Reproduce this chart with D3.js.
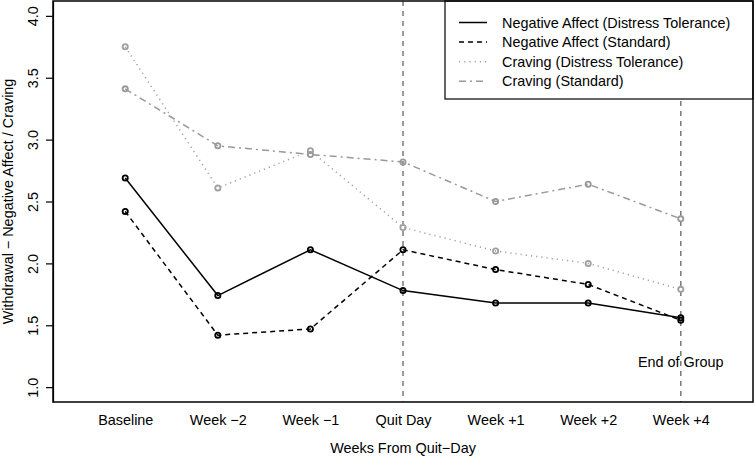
<!DOCTYPE html>
<html><head><meta charset="utf-8">
<script src="https://cdn.jsdelivr.net/npm/d3@7"></script>
<style>
body{margin:0;background:#fff;}
svg text{font-family:"Liberation Sans",Arial,Helvetica,sans-serif;}
</style>
</head><body>
<svg id="chart" width="755" height="456"></svg>
<script>
const categories = ["Baseline","Week \u22122","Week \u22121","Quit Day","Week +1","Week +2","Week +4"];
const negAffectDT  = [2.69, 1.74, 2.11, 1.78, 1.68, 1.68, 1.56];
const negAffectStd = [2.42, 1.42, 1.47, 2.11, 1.95, 1.83, 1.54];
const cravingDT    = [3.75, 2.61, 2.91, 2.29, 2.10, 2.00, 1.79];
const cravingStd   = [3.41, 2.95, 2.88, 2.82, 2.50, 2.64, 2.36];
const seriesNames  = ["Negative Affect (Distress Tolerance)","Negative Affect (Standard)","Craving (Distress Tolerance)","Craving (Standard)"];
const yTicks = [1.0, 1.5, 2.0, 2.5, 3.0, 3.5, 4.0];
const refLines = [4, 7];
const refLabel = "End of Group";
const xTitle = "Weeks From Quit\u2212Day";
const yTitle = "Withdrawal \u2212 Negative Affect / Craving";

const styles = [
  {color:"#000", dash:null, lw:1.5},
  {color:"#000", dash:"5,4", lw:1.5},
  {color:"#a0a0a0", dash:"1.2,4", lw:1.5},
  {color:"#999", dash:"7,4,2,4", lw:1.5}
];
const allSeries = [negAffectDT, negAffectStd, cravingDT, cravingStd];

const svg = d3.select("#chart");
const L=53, R=753, T=1, B=402;
const x = d3.scaleLinear().domain([0.22, 7.78]).range([L, R]);
const y = d3.scaleLinear().domain([0.88, 4.12]).range([B, T]);
const FS = "14.4px";

// reference lines
refLines.forEach(v=>{
  svg.append("line").attr("x1",x(v)).attr("x2",x(v)).attr("y1",T).attr("y2",B)
    .attr("stroke","#7a7a7a").attr("stroke-width",1.5).attr("stroke-dasharray","5,5");
});

// series
const line = d3.line().x((d,i)=>x(i+1)).y(d=>y(d));
allSeries.forEach((s,k)=>{
  const st = styles[k];
  svg.append("path").datum(s).attr("d",line).attr("fill","none")
    .attr("stroke",st.color).attr("stroke-width",st.lw)
    .attr("stroke-dasharray",st.dash);
  svg.selectAll(null).data(s).enter().append("circle")
    .attr("cx",(d,i)=>x(i+1)).attr("cy",d=>y(d)).attr("r",2.6)
    .attr("fill","none").attr("stroke",st.color).attr("stroke-width",1.8);
});

// End of group label
svg.append("text").attr("x",x(7)).attr("y",362).attr("dy","0.35em")
  .attr("text-anchor","middle").style("font-size",FS).text(refLabel);

// legend
const lg = svg.append("g");
lg.append("rect").attr("x",445).attr("y",T).attr("width",R-445).attr("height",98)
  .attr("fill","#fff").attr("stroke","#000").attr("stroke-width",1.2);
seriesNames.forEach((n,k)=>{
  const yy = 22.5 + k*19.6;
  const st = styles[k];
  lg.append("line").attr("x1",459).attr("x2",487).attr("y1",yy).attr("y2",yy)
    .attr("stroke",st.color).attr("stroke-width",st.lw).attr("stroke-dasharray",st.dash);
  lg.append("text").attr("x",502).attr("y",yy).attr("dy","0.35em")
    .style("font-size",FS).text(n);
});

// plot box
svg.append("rect").attr("x",L).attr("y",T).attr("width",R-L).attr("height",B-T)
  .attr("fill","none").attr("stroke","#000").attr("stroke-width",1.5);

// y axis
const ya = svg.append("g").attr("transform",`translate(${L},0)`)
  .call(d3.axisLeft(y).tickValues(yTicks).tickFormat(d3.format(".1f")).tickSize(7).tickSizeOuter(0));
ya.select(".domain").attr("stroke-width",1.2);
ya.selectAll(".tick line").attr("stroke-width",1.2);
ya.selectAll(".tick text").style("font-size",FS).style("font-family","Liberation Sans, Arial, sans-serif")
  .attr("x",0).attr("dy",0).attr("text-anchor","middle")
  .attr("transform","translate(-15,0) rotate(-90)").attr("dy","0em").attr("y",0);

// x axis labels
const xa = svg.append("g").attr("transform",`translate(0,${B})`)
  .call(d3.axisBottom(x).tickValues(d3.range(1,8)).tickFormat((d)=>categories[d-1]).tickSize(0).tickPadding(13));
xa.select(".domain").remove();
xa.selectAll(".tick text").style("font-size",FS).style("font-family","Liberation Sans, Arial, sans-serif");

// titles
svg.append("text").attr("x",(L+R)/2).attr("y",448).attr("dy","0.35em").attr("text-anchor","middle")
  .style("font-size",FS).text(xTitle);
svg.append("text").attr("transform",`translate(13,${(T+B)/2}) rotate(-90)`).attr("text-anchor","middle")
  .style("font-size",FS).text(yTitle);
</script>
</body></html>
